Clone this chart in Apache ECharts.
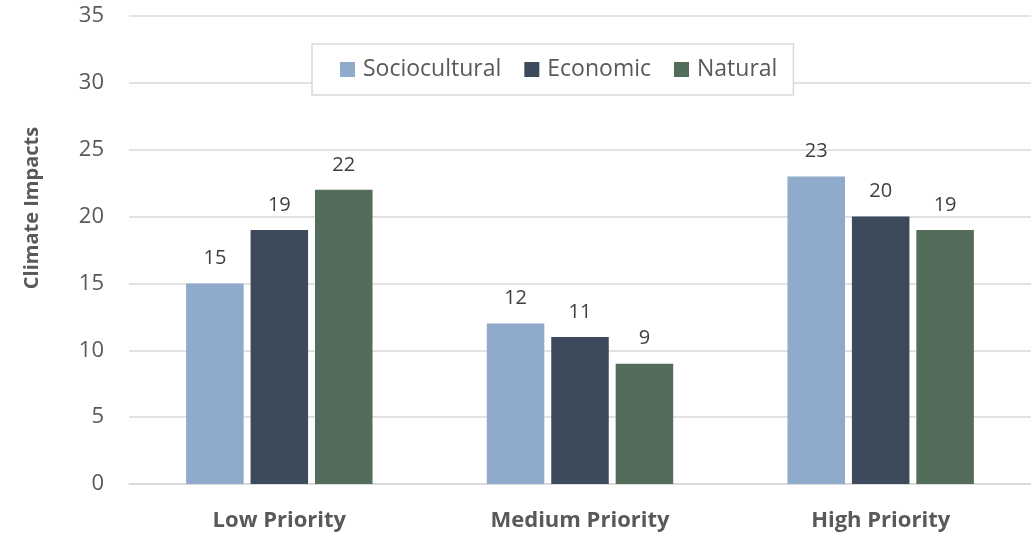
<!DOCTYPE html>
<html><head><meta charset="utf-8">
<script src="https://cdn.jsdelivr.net/npm/echarts@6/dist/echarts.min.js"></script>
<style>html,body{margin:0;padding:0;background:#fff}#c{width:1031px;height:535px}</style>
</head><body><div id="c"></div>
<script>
const categories = ['Low Priority', 'Medium Priority', 'High Priority'];
const seriesNames = ['Sociocultural', 'Economic', 'Natural'];
const sociocultural = [15, 12, 23];
const economic = [19, 11, 20];
const natural = [22, 9, 19];
const yAxisTitle = 'Climate Impacts';
const colors = ['#8FAACB', '#3D4A5C', '#546D5A'];
const font = '"Open Sans", sans-serif';

const chart = echarts.init(document.getElementById('c'));
const values = [sociocultural, economic, natural];
chart.setOption({
  animation: false,
  grid: {left: 129, width: 909, top: 16, bottom: 51, containLabel: false},
  legend: {
    data: seriesNames,
    top: 44, left: 312,
    padding: [14, 16, 14, 28],
    itemWidth: 15, itemHeight: 15, itemGap: 23,
    backgroundColor: '#fff', borderColor: '#D9D9D9', borderWidth: 1.5,
    icon: 'rect',
    textStyle: {fontFamily: font, fontSize: 23, color: '#595959', padding: [0,0,0,3]}
  },
  graphic: [{
    type: 'text',
    x: 32, y: 208,
    rotation: Math.PI / 2,
    style: {text: yAxisTitle, fontFamily: font, fontSize: 20, fontWeight: 'bold', fill: '#595959',
            align: 'center', verticalAlign: 'middle'}
  }],
  xAxis: {
    type: 'category', data: categories,
    axisLine: {lineStyle: {color: '#D9D9D9', width: 1.5}},
    axisTick: {show: false},
    axisLabel: {fontFamily: font, fontSize: 22, fontWeight: 'bold', color: '#595959', margin: 26}
  },
  yAxis: {
    type: 'value', min: 0, max: 35, interval: 5,
    axisLabel: {fontFamily: font, fontSize: 22, color: '#595959', margin: 25},
    splitLine: {lineStyle: {color: '#D9D9D9', width: 1.5}},
    axisLine: {show: false}, axisTick: {show: false}
  },
  series: seriesNames.map((n, i) => ({
    name: n, type: 'bar', data: values[i],
    barGap: '12%', barCategoryGap: '38%',
    itemStyle: {color: colors[i]},
    label: {show: true, position: 'top', distance: 15, fontFamily: font, fontSize: 20, color: '#404040'}
  }))
});
</script></body></html>
